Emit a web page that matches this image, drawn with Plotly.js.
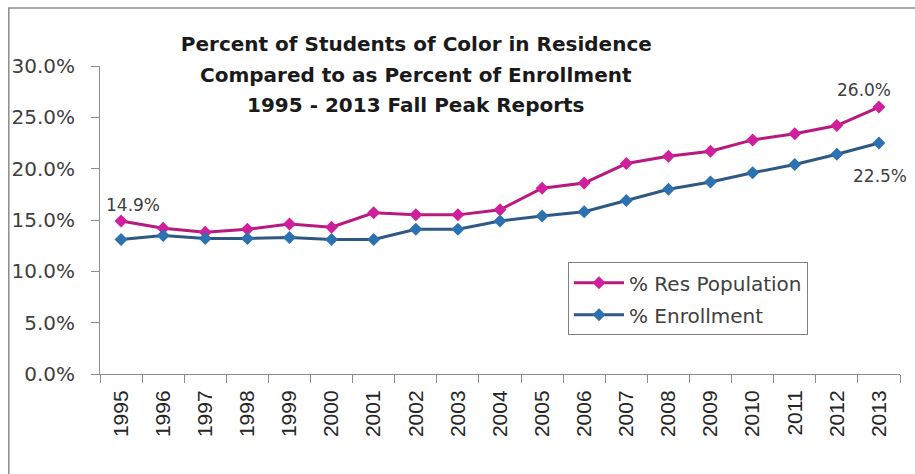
<!DOCTYPE html>
<html>
<head>
<meta charset="utf-8">
<script src="https://cdn.plot.ly/plotly-3.0.1.min.js"></script>
<style>html,body{margin:0;padding:0;background:#fff;}#chart{width:915px;height:474px;}</style>
</head>
<body>
<div id="chart"></div>
<script>
const years = ["1995","1996","1997","1998","1999","2000","2001","2002","2003","2004","2005","2006","2007","2008","2009","2010","2011","2012","2013"];
const resPopulation = [14.9,14.2,13.8,14.1,14.6,14.3,15.7,15.5,15.5,16.0,18.1,18.6,20.5,21.2,21.7,22.8,23.4,24.2,26.0];
const enrollment = [13.1,13.5,13.2,13.2,13.3,13.1,13.1,14.1,14.1,14.9,15.4,15.8,16.9,18.0,18.7,19.6,20.4,21.4,22.5];
const yTickVals = [0,5,10,15,20,25,30];
const yTickText = ["0.0%","5.0%","10.0%","15.0%","20.0%","25.0%","30.0%"];
const titleLines = ["Percent of Students of Color in Residence","Compared to as Percent of Enrollment","1995 - 2013 Fall Peak Reports"];

const last = years.length - 1;
const traces = [
  {x: years, y: resPopulation, name: "% Res Population", type: "scatter", mode: "lines+markers",
   legendgroup: "a",
   line: {color: "#B8197F", width: 3}, marker: {symbol: "diamond", size: 10, color: "#CF1F9C"}},
  {x: years, y: enrollment, name: "% Enrollment", type: "scatter", mode: "lines+markers",
   legendgroup: "b",
   line: {color: "#2F5985", width: 3}, marker: {symbol: "diamond", size: 10, color: "#2C72B0"}}
];

const labelFont = {family: "DejaVu Sans", size: 17, color: "#404040"};
const titleFont = {family: "DejaVu Sans", size: 20, color: "#1a1a1a"};
const layout = {
  width: 915, height: 474,
  margin: {l: 100, r: 15, t: 66, b: 100},
  paper_bgcolor: "#ffffff", plot_bgcolor: "#ffffff",
  showlegend: true,
  title: {text: "<b>" + titleLines[0] + "</b>", x: 0.455, xanchor: "center", y: 0.908, yanchor: "middle",
          font: titleFont},
  xaxis: {type: "category", tickson: "boundaries", ticks: "outside", ticklen: 8, tickcolor: "#8c8c8c",
          showline: true, linecolor: "#8c8c8c", linewidth: 1, showgrid: false, zeroline: false,
          tickangle: -90, ticklabelstandoff: 7, tickfont: {family: "Liberation Sans", size: 21, color: "#262626"},
          range: [-0.5, last + 0.5], fixedrange: true},
  yaxis: {range: [0, 30], tickvals: yTickVals, ticktext: yTickText, ticks: "outside", ticklen: 8,
          tickcolor: "#8c8c8c", showline: true, linecolor: "#8c8c8c", linewidth: 1, showgrid: false,
          zeroline: false, ticklabelstandoff: 12, tickfont: {family: "DejaVu Sans", size: 20, color: "#404040"}, fixedrange: true},
  legend: {x: 0.585, y: 0.363, xanchor: "left", yanchor: "top", bgcolor: "#ffffff",
           bordercolor: "#7f7f7f", borderwidth: 1, traceorder: "grouped", tracegroupgap: 3, itemwidth: 50,
           font: {family: "DejaVu Sans", size: 20, color: "#404040"}},
  annotations: [
    {xref: "paper", yref: "paper", x: 0.395, y: 0.971, xanchor: "center", yanchor: "middle", showarrow: false,
     text: "<b>" + titleLines[1] + "</b>", font: titleFont},
    {xref: "paper", yref: "paper", x: 0.395, y: 0.873, xanchor: "center", yanchor: "middle", showarrow: false,
     text: "<b>" + titleLines[2] + "</b>", font: titleFont},
    {x: 0, y: resPopulation[0], text: resPopulation[0].toFixed(1) + "%", showarrow: false,
     xshift: 12, yshift: 16, font: labelFont},
    {x: last, y: resPopulation[last], text: resPopulation[last].toFixed(1) + "%", showarrow: false,
     xshift: -15, yshift: 17, font: labelFont},
    {x: last, y: enrollment[last], text: enrollment[last].toFixed(1) + "%", showarrow: false,
     xshift: 1, yshift: -33, font: labelFont}
  ],
  shapes: [
    {type: "rect", xref: "paper", yref: "paper", x0: -0.114, x1: 1.05, y0: -0.4, y1: 1.188,
     line: {color: "#8a8a8a", width: 1.5}, fillcolor: "rgba(0,0,0,0)", layer: "below"}
  ]
};

Plotly.newPlot("chart", traces, layout, {displayModeBar: false, staticPlot: true});
</script>
</body>
</html>
